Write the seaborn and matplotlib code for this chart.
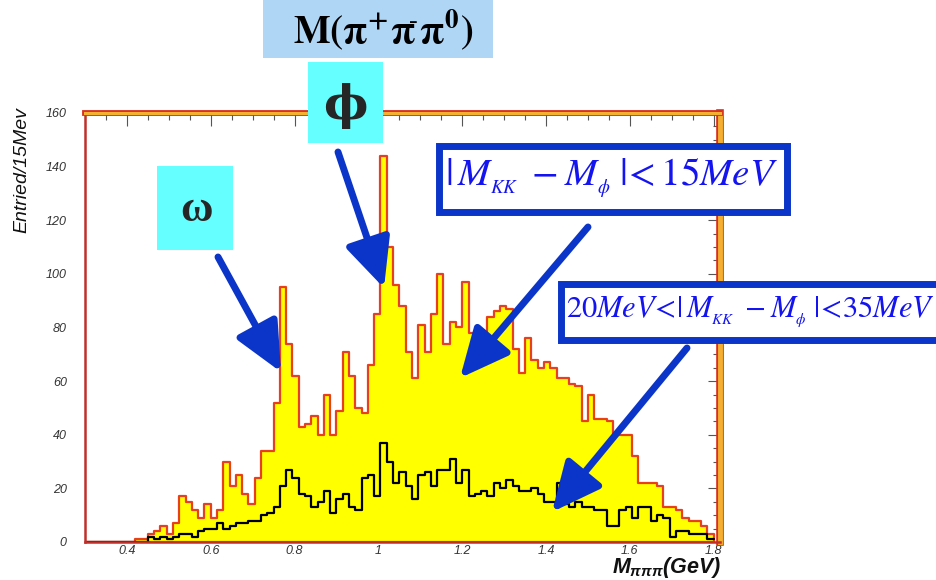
import numpy as np
import pandas as pd
import seaborn as sns
import matplotlib.pyplot as plt
import matplotlib.patheffects as pe
from matplotlib.patches import Rectangle
from matplotlib.ticker import MultipleLocator

# M(pi+ pi- pi0), 15 MeV bins between 0.3 and 1.8 GeV
bin_edges = [round(0.3 + 0.015 * i, 4) for i in range(101)]

# |M_KK - M_phi| < 15 MeV  (yellow)
kk_signal = [
    0, 0, 0, 0, 0, 0, 0, 0, 1, 1,
    3, 4, 6, 3, 7, 17, 15, 12, 9, 14,
    9, 12, 30, 21, 25, 18, 14, 24, 34, 34,
    52, 95, 74, 62, 43, 44, 47, 40, 55, 40,
    49, 71, 62, 50, 48, 66, 85, 144, 110, 96,
    88, 71, 61, 81, 71, 85, 100, 74, 82, 80,
    97, 78, 73, 78, 84, 86, 88, 87, 72, 63,
    76, 68, 65, 67, 65, 61, 61, 59, 58, 45,
    55, 46, 46, 45, 40, 40, 40, 32, 22, 22,
    22, 21, 13, 13, 12, 9, 8, 8, 6, 3,
]

# 20 MeV < |M_KK - M_phi| < 35 MeV  (black)
kk_sideband = [
    0, 0, 0, 0, 0, 0, 0, 0, 0, 0,
    2, 1, 2, 1, 2, 3, 3, 2, 4, 5,
    5, 7, 5, 6, 7, 7, 8, 8, 10, 11,
    13, 21, 27, 24, 18, 17, 13, 15, 19, 11,
    16, 18, 13, 12, 24, 25, 17, 37, 30, 22,
    26, 21, 16, 25, 26, 21, 27, 27, 31, 22,
    27, 17, 18, 19, 17, 22, 20, 23, 21, 19,
    19, 20, 18, 15, 15, 22, 14, 13, 15, 13,
    13, 12, 12, 6, 6, 12, 13, 9, 13, 13,
    8, 10, 9, 2, 4, 4, 3, 3, 3, 1,
]

y_ticks = [0, 20, 40, 60, 80, 100, 120, 140, 160]
x_ticks = [0.4, 0.6, 0.8, 1.0, 1.2, 1.4, 1.6, 1.8]
x_tick_labels = ["0.4", "0.6", "0.8", "1", "1.2", "1.4", "1.6", "1.8"]

edges = np.array(bin_edges)
centers = (edges[:-1] + edges[1:]) / 2
df = pd.DataFrame({"mass": centers, "signal": kk_signal, "sideband": kk_sideband})

sns.set_style("white")
plt.rcParams["font.family"] = ["Liberation Sans", "DejaVu Sans"]
plt.rcParams["mathtext.fontset"] = "custom"
plt.rcParams["mathtext.it"] = "Liberation Sans:italic:bold"
plt.rcParams["mathtext.rm"] = "Liberation Sans:bold"
plt.rcParams["mathtext.bf"] = "Liberation Sans:bold"

W, H = 936, 580
fig = plt.figure(figsize=(W / 100, H / 100), dpi=100)
ax = fig.add_axes([85 / W, 1 - 542 / H, 635 / W, 429 / H])


def fx(x):
    return x / W


def fy(y):
    return 1 - y / H


sns.histplot(data=df, x="mass", weights="signal", bins=bin_edges, element="step",
             fill=True, color="#ffff00", edgecolor="#e8401c", linewidth=1.6,
             alpha=1, ax=ax)
sns.histplot(data=df, x="mass", weights="sideband", bins=bin_edges, element="step",
             fill=False, color="black", linewidth=1.6, ax=ax)

ax.set_xlim(0.3, 1.815)
ax.set_ylim(0, 160)
ax.set_xlabel("")
ax.set_ylabel("")
ax.set_yticks(y_ticks)
ax.set_yticklabels([str(t) for t in y_ticks])
ax.set_xticks(x_ticks)
ax.set_xticklabels(x_tick_labels)
ax.xaxis.set_minor_locator(MultipleLocator(0.05))
ax.yaxis.set_minor_locator(MultipleLocator(5))
ax.tick_params(which="both", direction="in", top=True, right=True, color="#555555",
               width=0.8)
ax.tick_params(which="major", length=9)
ax.tick_params(which="minor", length=5)
ax.tick_params(axis="y", which="major", pad=13, labelsize=9, labelcolor="#333333")
ax.tick_params(axis="x", which="major", pad=2, labelsize=9, labelcolor="#333333")
for lab in ax.get_xticklabels() + ax.get_yticklabels():
    lab.set_fontstyle("italic")

for side in ["left", "bottom"]:
    ax.spines[side].set_color("#c0302a")
    ax.spines[side].set_linewidth(1.8)
for side, w in [("top", 2.2), ("right", 3.5)]:
    ax.spines[side].set_color("#f4b030")
    ax.spines[side].set_linewidth(w)
    ax.spines[side].set_path_effects([pe.Stroke(linewidth=w + 2, foreground="#d83020"),
                                      pe.Normal()])

# axis titles
fig.text(fx(22), fy(107), "Entried/15Mev", rotation=90, ha="center", va="top",
         fontsize=14, fontstyle="italic", color="#111111")
fig.text(fx(721), fy(573), r"$M_{\pi\pi\pi}$(GeV)", ha="right", va="baseline",
         fontsize=15.5, fontweight="bold", fontstyle="italic", color="#111111",
         math_fontfamily="custom")

# title box
fig.add_artist(Rectangle((fx(263), fy(58)), 230 / W, 58 / H, transform=fig.transFigure,
                         facecolor="#b0d6f6", edgecolor="none"))
fig.text(fx(383), fy(30), r"$\mathbf{M(\pi^{+}\pi^{\!\!\text{-}}\pi^{0})}$", ha="center",
         va="center", fontsize=28, color="black", math_fontfamily="stix")

# omega and phi labels
fig.add_artist(Rectangle((fx(157), fy(250)), 76 / W, 84 / H, transform=fig.transFigure,
                         facecolor="#66ffff", edgecolor="none"))
fig.text(fx(196), fy(210), "ω", ha="center", va="center", fontsize=32,
         family=["Liberation Serif", "DejaVu Serif"], fontweight="bold")
fig.add_artist(Rectangle((fx(308), fy(143)), 75 / W, 81 / H, transform=fig.transFigure,
                         facecolor="#66ffff", edgecolor="none"))
fig.text(fx(345), fy(106), "ϕ", ha="center", va="center", fontsize=34,
         family=["DejaVu Serif"], fontweight="bold")

# cut boxes
blue = "#0b35c8"
fig.add_artist(Rectangle((fx(438.5), fy(211.5)), 348 / W, 66 / H,
                         transform=fig.transFigure, facecolor="white",
                         edgecolor=blue, linewidth=5))
fig.text(fx(611), fy(178), r"$|\,M_{_{KK}}\; - M_{_{\phi}}\;|\!< 15MeV$", ha="center",
         va="center", fontsize=28, color="#1414f0", math_fontfamily="stix")
fig.add_artist(Rectangle((fx(560.5), fy(339.5)), 400 / W, 56 / H,
                         transform=fig.transFigure, facecolor="white",
                         edgecolor=blue, linewidth=5))
fig.text(fx(566), fy(312), r"$20MeV\!<\!|\,M_{_{KK}}\; - M_{_{\phi}}\;|\!<\!35MeV$",
         ha="left", va="center", fontsize=22, color="#1414f0", math_fontfamily="stix")

# arrows
arrows = [((218, 257), (281, 372)), ((338, 152), (384, 288)),
          ((588, 227), (460, 378)), ((687, 348), (552, 512))]
for (x0, y0), (x1, y1) in arrows:
    ax.annotate("", xy=(fx(x1), fy(y1)), xytext=(fx(x0), fy(y0)),
                xycoords="figure fraction", textcoords="figure fraction",
                annotation_clip=False,
                arrowprops=dict(arrowstyle="-|>,head_length=1.5,head_width=0.7",
                                mutation_scale=20, lw=5, color=blue,
                                shrinkA=0, shrinkB=0))

fig.savefig("out.png", dpi=100)
